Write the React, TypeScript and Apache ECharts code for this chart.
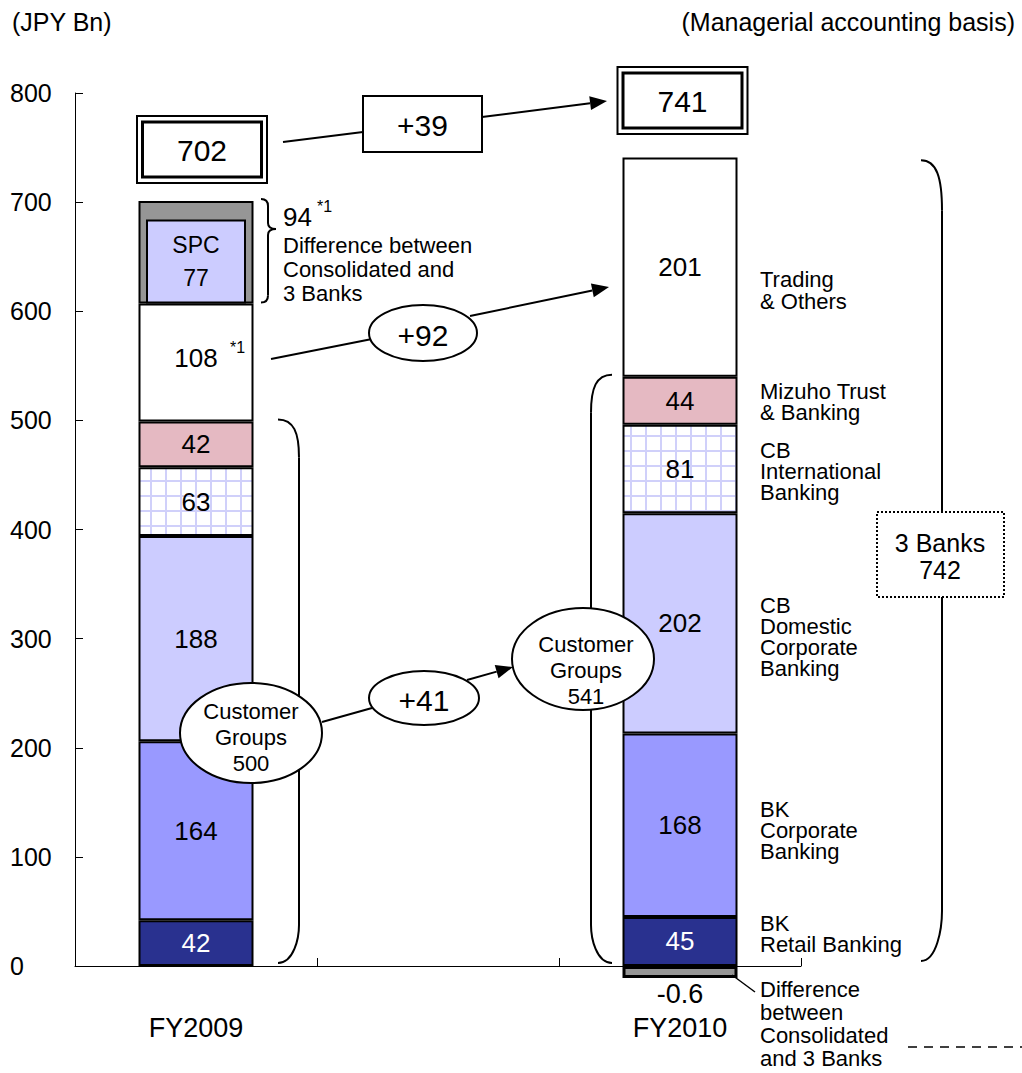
import React, { useEffect, useRef } from 'react';
import * as echarts from 'echarts';

const FONT = '"Liberation Sans", Arial, Helvetica, sans-serif';

// Gross profits by business segment (JPY Bn)
const categories = ['FY2009', '', 'FY2010'];
const bkRetail = [42, null, 45];
const bkCorporate = [164, null, 168];
const cbDomestic = [188, null, 202];
const cbInternational = [63, null, 81];
const mizuhoTrust = [42, null, 44];
const tradingOthers = [108, null, 201];
const consolidatedDiff = [94, null, -0.6];
const spcPortion = [77, null, null];

const totals = [702, 741];
const customerGroupTotals = [500, 541];
const threeBanksTotal = 742;
const changeTotal = '+39';
const changeTrading = '+92';
const changeCustomer = '+41';

const yMin = 0;
const yMax = 800;
const yStep = 100;

const COLORS = {
  retail: '#29318f',
  bkCorp: '#9999ff',
  cbDom: '#ccccff',
  gridLine: '#d0d0fa',
  mtb: '#e5b9c2',
  trading: '#ffffff',
  diff: '#969696',
  spc: '#ccccff',
};

function gridPattern() {
  const c = document.createElement('canvas');
  c.width = 15;
  c.height = 15;
  const ctx = c.getContext('2d')!;
  ctx.fillStyle = '#ffffff';
  ctx.fillRect(0, 0, 15, 15);
  ctx.fillStyle = COLORS.gridLine;
  ctx.fillRect(0, 0, 2, 15);
  ctx.fillRect(0, 0, 15, 2);
  return c;
}

const ink = { stroke: '#000', lineWidth: 2, fill: null as any };

function txt(text: string, x: number, y: number, size: number, align = 'left', lineHeight?: number) {
  return {
    type: 'text',
    z: 70,
    silent: true,
    style: {
      text, x, y, fill: '#000', fontSize: size, fontFamily: FONT,
      align, textAlign: align, verticalAlign: 'middle', textVerticalAlign: 'middle',
      lineHeight: lineHeight ?? Math.round(size * 1.15),
    },
  };
}
function line(x1: number, y1: number, x2: number, y2: number, lw = 2, extra: any = {}) {
  return { type: 'line', z: 50, silent: true, shape: { x1, y1, x2, y2 }, style: { stroke: '#000', lineWidth: lw, ...extra } };
}
function bez(x1: number, y1: number, cpx1: number, cpy1: number, cpx2: number, cpy2: number, x2: number, y2: number) {
  return { type: 'bezierCurve', z: 50, silent: true, shape: { x1, y1, cpx1, cpy1, cpx2, cpy2, x2, y2 }, style: { ...ink } };
}
function arrow(x1: number, y1: number, x2: number, y2: number) {
  const dx = x2 - x1, dy = y2 - y1, L = Math.hypot(dx, dy);
  const ux = dx / L, uy = dy / L;
  const len = 17, half = 7;
  const bx = x2 - ux * len, by = y2 - uy * len;
  const px = -uy, py = ux;
  return [
    line(x1, y1, bx, by),
    { type: 'polygon', z: 50, silent: true, shape: { points: [[x2, y2], [bx + px * half, by + py * half], [bx - px * half, by - py * half]] }, style: { fill: '#000' } },
  ];
}
// Round bracket: depth > 0 bulges right ")", depth < 0 bulges left "("
function paren(xEnd: number, yTop: number, yBot: number, depth: number, curl: number) {
  const xv = xEnd + depth;
  return [
    bez(xEnd, yTop, xEnd + depth * 0.75, yTop, xv, yTop + curl * 0.35, xv, yTop + curl),
    { ...line(xv, yTop + curl, xv, yBot - curl), style: { ...ink } },
    bez(xv, yBot - curl, xv, yBot - curl * 0.65, xEnd + depth * 0.75, yBot, xEnd, yBot),
  ];
}
function curly(x0: number, yTop: number, yTip: number, yBot: number) {
  const xv = x0 + 7, xt = x0 + 15;
  return [
    bez(x0, yTop, x0 + 5, yTop, xv, yTop + 2, xv, yTop + 7),
    { ...line(xv, yTop + 7, xv, yTip - 6), style: { ...ink } },
    bez(xv, yTip - 6, xv, yTip - 2, xv + 3, yTip, xt, yTip),
    bez(xt, yTip, xv + 3, yTip, xv, yTip + 2, xv, yTip + 6),
    { ...line(xv, yTip + 6, xv, yBot - 7), style: { ...ink } },
    bez(xv, yBot - 7, xv, yBot - 2, x0 + 5, yBot, x0, yBot),
  ];
}
function box(x: number, y: number, w: number, h: number, lw = 2, extra: any = {}) {
  return { type: 'rect', z: 60, silent: true, shape: { x, y, width: w, height: h }, style: { fill: '#fff', stroke: '#000', lineWidth: lw, ...extra } };
}
function doubleBox(cx: number, cy: number, text: string) {
  return [
    box(cx - 65, cy - 33.5, 130, 67, 2),
    box(cx - 59.5, cy - 27.5, 119, 55, 3),
    txt(text, cx, cy + 1, 30, 'center'),
  ];
}
function oval(cx: number, cy: number, rx: number, ry: number) {
  return { type: 'ellipse', z: 60, silent: true, shape: { cx, cy, rx, ry }, style: { fill: '#fff', stroke: '#000', lineWidth: 2 } };
}

export default function App() {
  const ref = useRef<HTMLDivElement>(null);

  useEffect(() => {
    const chart = echarts.init(ref.current!, null, { renderer: 'svg' });

    const segLabel = (color = '#000') => ({
      show: true, position: 'inside', color, fontSize: 26, fontFamily: FONT,
    });
    const seg = (name: string, data: any[], color: any, labelColor = '#000') => ({
      name, type: 'bar', stack: 'total', barWidth: 115, data,
      itemStyle: { color, borderColor: '#000', borderWidth: 2 },
      label: segLabel(labelColor),
    });

    const lower = [bkRetail, bkCorporate, cbDomestic, cbInternational, mizuhoTrust, tradingOthers];
    const spcBase = categories.map((_, i) =>
      spcPortion[i] == null ? null : lower.reduce((s, a) => s + (a[i] ?? 0), 0)
    );

    chart.setOption({
      animation: false,
      backgroundColor: '#fff',
      grid: { left: 75, right: 221, top: 93, bottom: 107 },
      xAxis: [
        {
          type: 'category', data: categories,
          axisLine: { lineStyle: { color: '#000', width: 1 } },
          axisTick: { show: true, inside: true, length: 8, interval: 0, lineStyle: { color: '#000' } },
          axisLabel: { margin: 48, fontSize: 27, color: '#000', fontFamily: FONT, interval: 0 },
        },
        { type: 'category', data: categories, show: false },
      ],
      yAxis: {
        type: 'value', min: yMin, max: yMax, interval: yStep,
        axisLine: { show: true, lineStyle: { color: '#000', width: 1 } },
        axisTick: { show: true, inside: true, length: 8, lineStyle: { color: '#000' } },
        axisLabel: { align: 'left', margin: 65, fontSize: 25, color: '#000', fontFamily: FONT },
        splitLine: { show: false },
      },
      series: [
        seg('BK Retail Banking', bkRetail, COLORS.retail, '#fff'),
        seg('BK Corporate Banking', bkCorporate, COLORS.bkCorp),
        seg('CB Domestic Corporate Banking', cbDomestic, COLORS.cbDom),
        seg('CB International Banking', cbInternational, { image: gridPattern(), repeat: 'repeat' }),
        seg('Mizuho Trust & Banking', mizuhoTrust, COLORS.mtb),
        seg(
          'Trading & Others',
          tradingOthers.map((v, i) => (i === 0 && v != null ? { value: v, label: { offset: [0, -5] } } : v)),
          COLORS.trading
        ),
        {
          name: 'Difference between Consolidated and 3 Banks',
          type: 'bar', stack: 'total', barWidth: 115, barMinHeight: 12, clip: false,
          data: consolidatedDiff.map((v) =>
            v == null ? null : v < 0
              ? { value: v, itemStyle: { borderWidth: 3 }, label: { show: true, position: 'bottom', distance: 2, fontSize: 27, formatter: String(v) } }
              : v
          ),
          itemStyle: { color: COLORS.diff, borderColor: '#000', borderWidth: 2 },
          label: { show: false, color: '#000', fontFamily: FONT },
        },
        {
          name: 'spc-base', type: 'bar', xAxisIndex: 1, stack: 'spc', barWidth: 100, silent: true,
          data: spcBase, itemStyle: { color: 'rgba(0,0,0,0)' }, label: { show: false },
        },
        {
          name: 'SPC', type: 'bar', xAxisIndex: 1, stack: 'spc', barWidth: 100,
          data: spcPortion,
          itemStyle: { color: COLORS.spc, borderColor: '#000', borderWidth: 2 },
          label: {
            show: true, position: 'inside', color: '#000', fontSize: 23, lineHeight: 33, fontFamily: FONT,
            formatter: (p: any) => `SPC\n${p.value}`,
          },
        },
      ],
    });

    const Y = (v: number) => chart.convertToPixel({ yAxisIndex: 0 }, v) as number;
    const cum = (i: number, arrs: (number | null)[][]) => arrs.reduce((s, a) => s + (a[i] ?? 0), 0);
    const top09 = cum(0, [...lower, consolidatedDiff]);
    const mid09 = cum(0, lower);

    const graphics: any[] = [
      txt('(JPY Bn)', 12, 22, 25),
      txt('(Managerial accounting basis)', 1015, 22, 25, 'right'),

      // Totals and change
      ...doubleBox(202, 149.5, String(totals[0])),
      ...doubleBox(682.5, 100.5, String(totals[1])),
      line(283, 142, 363, 132),
      ...arrow(482, 117, 607, 101),
      box(363, 96, 119, 56, 2),
      txt(changeTotal, 422.5, 125, 30, 'center'),

      // Trading & Others change
      line(271, 359, 372, 339),
      ...arrow(470, 316, 609, 287),
      oval(423, 333, 54, 28),
      txt(changeTrading, 423, 335, 30, 'center'),
      txt('*1', 230, 347, 16),

      // Consolidated difference annotation
      ...curly(261, Y(top09) - 2, 229, Y(mid09) - 1),
      txt('94', 283, 217, 26),
      txt('*1', 317, 206, 16),
      txt('Difference between\nConsolidated and\n3 Banks', 283, 269, 22, 'left', 24),

      // Customer groups brackets
      ...paren(278, Y(customerGroupTotals[0]) - 1, Y(0) - 3, 21, 38),
      ...paren(612, Y(customerGroupTotals[1]) - 1, Y(0) - 3, -21, 38),
      ...paren(921, Y(threeBanksTotal) + 4, Y(0) - 5, 21, 50),

      line(322, 722, 372, 708),
      ...arrow(467, 680, 513, 667),
      oval(251, 733, 71, 50),
      txt(`Customer\nGroups\n${customerGroupTotals[0]}`, 251, 737, 22, 'center', 26),
      oval(424, 698, 55, 27),
      txt(changeCustomer, 424, 700, 30, 'center'),
      oval(583, 659, 71, 51),
      txt(`Customer\nGroups\n${customerGroupTotals[1]}`, 586, 670, 22, 'center', 26),

      // 3 Banks total
      box(877, 512, 127, 85, 2, { lineDash: [2, 2] }),
      txt(`3 Banks\n${threeBanksTotal}`, 940, 556, 25, 'center', 27),

      // Segment names
      txt('Trading\n& Others', 760, 290, 22, 'left', 22),
      txt('Mizuho Trust\n& Banking', 760, 402, 22, 'left', 21),
      txt('CB\nInternational\nBanking', 760, 471, 22, 'left', 21),
      txt('CB\nDomestic\nCorporate\nBanking', 760, 637, 22, 'left', 21),
      txt('BK\nCorporate\nBanking', 760, 830, 22, 'left', 21),
      txt('BK\nRetail Banking', 760, 934, 22, 'left', 21),
      line(732, 975, 755, 992, 1.5),
      txt('Difference\nbetween\nConsolidated\nand 3 Banks', 760, 1024, 22, 'left', 23),
      line(908, 1047, 1022, 1047, 1.5, { lineDash: [9, 7] }),
    ];

    chart.setOption({ graphic: graphics });

    return () => chart.dispose();
  }, []);

  return (
    <div
      ref={ref}
      style={{ position: 'absolute', left: 0, top: 0, width: 1022, height: 1073, background: '#fff' }}
    />
  );
}
